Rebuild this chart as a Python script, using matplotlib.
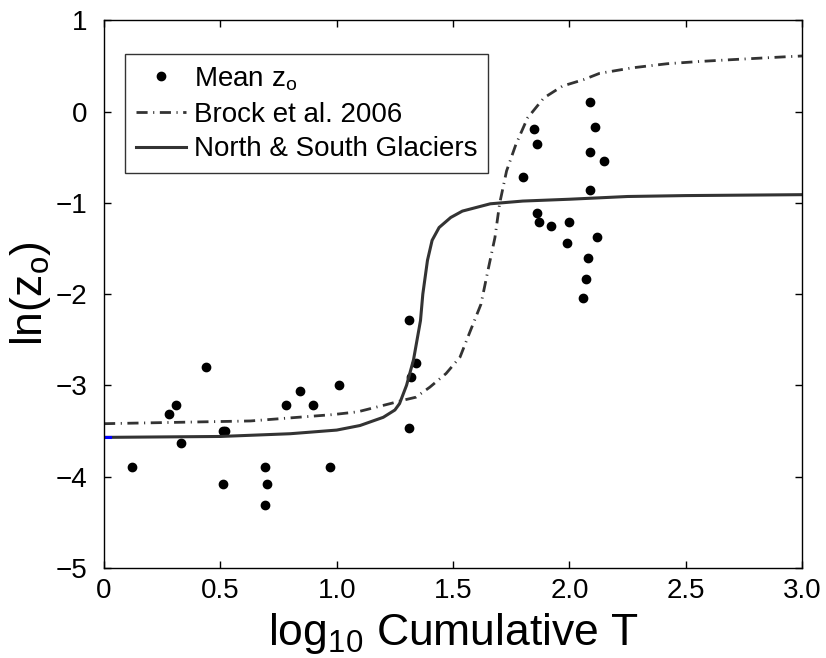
import matplotlib
matplotlib.use("Agg")
import matplotlib.pyplot as plt

plt.rcParams['font.family'] = ['Liberation Sans', 'DejaVu Sans']

# Mean z_o data points
mean_x = [0.12, 0.28, 0.31, 0.33, 0.44, 0.51, 0.52, 0.51, 0.69, 0.69, 0.70,
          0.78, 0.84, 0.90, 0.97, 1.01, 1.31, 1.34, 1.32, 1.31,
          2.09, 1.85, 2.11, 1.86, 2.09, 2.15, 1.80, 2.09,
          1.86, 1.87, 1.92, 2.00, 2.12, 1.99, 2.08, 2.07, 2.06]
mean_y = [-3.90, -3.31, -3.22, -3.63, -2.80, -3.50, -3.50, -4.08, -4.31, -3.90, -4.08,
          -3.22, -3.06, -3.22, -3.90, -3.00, -2.28, -2.75, -2.91, -3.47,
          0.11, -0.19, -0.17, -0.36, -0.44, -0.54, -0.72, -0.86,
          -1.11, -1.21, -1.25, -1.21, -1.37, -1.44, -1.60, -1.83, -2.04]

# Brock et al. 2006 curve
brock_x = [0.0, 0.63, 0.985, 1.09, 1.23, 1.29, 1.34, 1.40, 1.47, 1.53, 1.57, 1.62,
           1.65, 1.68, 1.70, 1.73, 1.77, 1.82, 1.89, 1.97, 2.06, 2.13, 2.27,
           2.42, 2.56, 2.70, 2.92, 3.0]
brock_y = [-3.42, -3.39, -3.32, -3.29, -3.20, -3.16, -3.13, -3.02, -2.87, -2.69, -2.43, -2.11,
           -1.74, -1.38, -1.01, -0.65, -0.36, -0.07, 0.15, 0.28, 0.35, 0.42, 0.48,
           0.525, 0.55, 0.57, 0.60, 0.61]

# North & South Glaciers curve
ns_x = [0.0, 0.5, 0.8, 1.0, 1.1, 1.2, 1.25, 1.27, 1.3, 1.33, 1.36, 1.37, 1.39, 1.41,
        1.44, 1.49, 1.54, 1.66, 1.8, 2.0, 2.25, 2.5, 3.0]
ns_y = [-3.57, -3.56, -3.53, -3.49, -3.44, -3.35, -3.27, -3.20, -3.00, -2.72, -2.29, -2.00,
        -1.63, -1.41, -1.27, -1.16, -1.09, -1.01, -0.98, -0.96, -0.93, -0.92, -0.91]

# short blue segment at the left edge
blue_x = [0.0, 0.025]
blue_y = [-3.57, -3.57]

x_ticks = [0, 0.5, 1.0, 1.5, 2.0, 2.5, 3.0]
x_tick_labels = ['0', '0.5', '1.0', '1.5', '2.0', '2.5', '3.0']
y_ticks = [-5, -4, -3, -2, -1, 0, 1]

fig = plt.figure(figsize=(8.26, 6.58), dpi=100)
ax = fig.add_axes([0.126, 0.137, 0.845, 0.832])

line_col = '#333333'
ax.plot(mean_x, mean_y, 'o', color='black', markersize=6, linestyle='none',
        label='Mean z$_\\mathregular{o}$')
ax.plot(brock_x, brock_y, color=line_col, linewidth=2,
        linestyle=(0, (4.0, 2.0, 0.4, 2.0)), label='Brock et al. 2006')
ax.plot(ns_x, ns_y, color=line_col, linewidth=2.2, label='North & South Glaciers')
ax.plot(blue_x, blue_y, color='blue', linewidth=2.2)

ax.set_xlim(0, 3.0)
ax.set_ylim(-5, 1)
ax.set_xticks(x_ticks)
ax.set_xticklabels(x_tick_labels)
ax.set_yticks(y_ticks)
ax.tick_params(direction='in', top=True, right=True, length=5, width=1,
               labelsize=20)
ax.tick_params(axis='x', pad=7)
ax.tick_params(axis='y', pad=12)
for s in ax.spines.values():
    s.set_linewidth(1)

ax.set_xlabel('log$_\\mathregular{10}$ Cumulative T', fontsize=32, labelpad=5)
ax.set_ylabel('ln(z$_\\mathregular{o}$)', fontsize=32, labelpad=2)

leg = ax.legend(loc='upper left', bbox_to_anchor=(0.03, 0.938), fontsize=20,
                frameon=True, fancybox=False, edgecolor='black',
                handlelength=1.8, handletextpad=0.3, borderpad=0.38,
                labelspacing=0.32, borderaxespad=0)
leg.get_frame().set_linewidth(1)

fig.savefig('out.png', dpi=100)
